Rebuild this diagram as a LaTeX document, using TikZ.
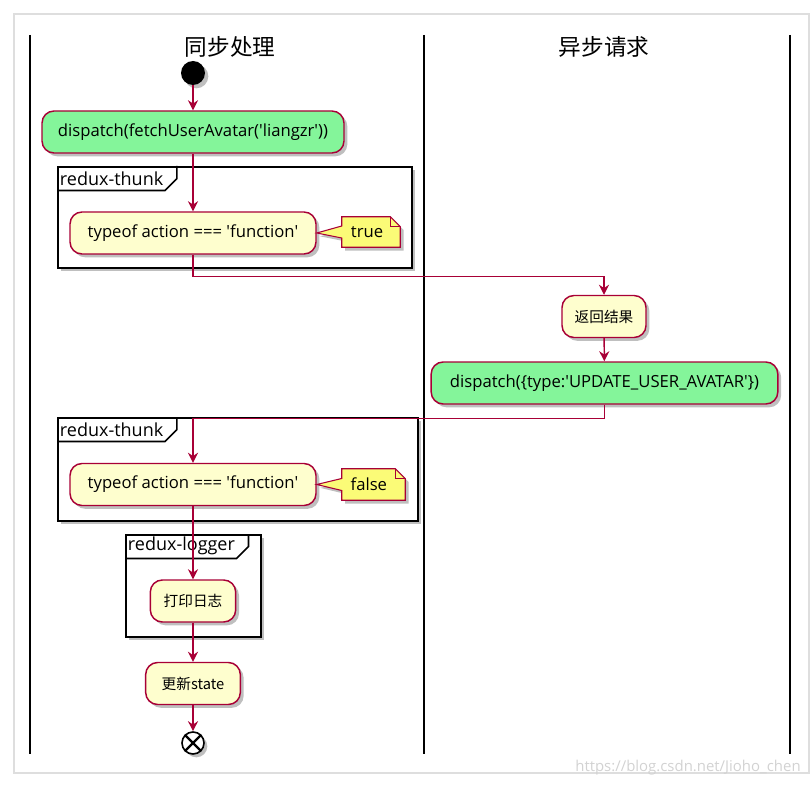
\documentclass[tikz,border=0pt]{standalone}
\usepackage{fontspec}
\setmainfont{Open Sans}
\newfontfamily\cjk{Noto Sans CJK SC}
\usepackage{tikz}
\usepackage{xcolor}
\usetikzlibrary{arrows.meta,positioning,shadows}
\definecolor{umlred}{HTML}{A80036}
\definecolor{actfill}{HTML}{FEFECE}
\definecolor{actgreen}{HTML}{84F59A}
\definecolor{notefill}{HTML}{FBFB77}
\newcommand{\sq}{\textquotesingle}
\tikzset{%
	umlshadow/.style = {drop shadow={shadow xshift=2.5pt, shadow yshift=-2.5pt, opacity=0.25, fill=black}},
	action/.style    = {draw=umlred, fill=actfill, line width=1.1pt, rounded corners=9pt, minimum height=31.5pt, text centered, font=\fontsize{12.5}{14}\selectfont, umlshadow},
	cjkact/.style    = {action, font=\cjk\fontsize{11}{13}\selectfont},
	greenact/.style  = {action, fill=actgreen},
	notebox/.style   = {inner sep=0pt, font=\fontsize{12.5}{14}\selectfont},
	noteline/.style  = {draw=umlred, fill=notefill, line width=0.8pt, line join=miter, umlshadow},
	framebox/.style  = {draw=black, line width=1.5pt, fill=white, umlshadow},
	tablabel/.style  = {inner xsep=2pt, inner ysep=0pt, minimum height=18pt, anchor=north west, font=\fontsize{13.5}{15}\selectfont},
	lanetitle/.style = {font=\cjk\fontsize{17}{20}\selectfont},
	lane/.style      = {line width=1.6pt},
	flow/.style      = {draw=umlred, line width=1.1pt, -{Stealth[length=7.5pt,width=7.5pt,inset=2.5pt]}},
}
\begin{document}
\begin{tikzpicture}[x=0.75pt,y=-0.75pt]
	\useasboundingbox (0,0) rectangle (811,788);
	\draw[black!13, line width=0.9pt] (14,14) rectangle (809,773);  % outer border
	\node[gray!35, font=\fontsize{11.2}{13}\selectfont] (mark) at (688,768) {https://blog.csdn.net/Jioho\_chen};
	
	% swimlanes
	\draw[lane] (30,35) -- (30,754);
	\draw[lane] (424,35) -- (424,754);
	\draw[lane] (790,35) -- (790,754);
	\node[lanetitle] (syncT) at (230,47) {同步处理};
	\node[lanetitle] (asyncT) at (604,47) {异步请求};
	
	% frames
	\node[framebox, minimum width=265.5pt, minimum height=75.75pt] (thunkA) at (235,217.5) {};
	\node[tablabel] (thunkAlbl) at (thunkA.north west) {redux-thunk\kern8pt};
	\draw[line width=1.2pt] (thunkAlbl.south west) -- ([xshift=-9pt]thunkAlbl.south east) -- ([yshift=9pt]thunkAlbl.south east) -- (thunkAlbl.north east);
	
	\node[framebox, minimum width=270pt, minimum height=77.25pt] (thunkB) at (238,469.5) {};
	\node[tablabel] (thunkBlbl) at (thunkB.north west) {redux-thunk\kern8pt};
	\draw[line width=1.2pt] (thunkBlbl.south west) -- ([xshift=-9pt]thunkBlbl.south east) -- ([yshift=9pt]thunkBlbl.south east) -- (thunkBlbl.north east);
	
	\node[framebox, minimum width=101.25pt, minimum height=76.5pt] (logger) at (193.5,586) {};
	\node[tablabel] (loggerlbl) at (logger.north west) {redux-logger\kern8pt};
	\draw[line width=1.2pt] (loggerlbl.south west) -- ([xshift=-9pt]loggerlbl.south east) -- ([yshift=9pt]loggerlbl.south east) -- (loggerlbl.north east);
	
	% activities
	\node[circle, fill=black, minimum size=18pt, inner sep=0pt, umlshadow] (start) at (193,73) {};
	\node[greenact, minimum width=226.5pt] (fetch) at (193,132) {dispatch(fetchUserAvatar(\sq liangzr\sq))};
	\node[action, minimum width=184.5pt] (typeA) at (193,233) {typeof action === \sq function\sq};
	\node[cjkact, minimum width=63pt] (result) at (604,316.5) {返回结果};
	\node[greenact, minimum width=260pt] (update) at (604.5,383) {dispatch(\{type:\sq UPDATE\_USER\_AVATAR\sq\})};
	\node[action, minimum width=184.5pt] (typeB) at (193,484.5) {typeof action === \sq function\sq};
	\node[cjkact, minimum width=64pt] (printlog) at (193,601) {打印日志};
	\node[cjkact, minimum width=71pt] (newstate) at (193,683.5) {更新state};
	\node[circle, draw=black, fill=white, line width=1.2pt, minimum size=16.5pt, inner sep=0pt, umlshadow] (fin) at (193,743) {};
	\draw[line width=1.6pt] (fin.north west) -- (fin.south east) (fin.north east) -- (fin.south west);
	
	% notes
	\node[notebox, minimum width=43.5pt, minimum height=22.5pt] (noteT) at (371,232) {};
	\draw[noteline] (noteT.north west) -- ([xshift=-7.5pt]noteT.north east) -- ([yshift=-7.5pt]noteT.north east) -- (noteT.south east) -- (noteT.south west) -- ([yshift=-4.5pt]noteT.west) -- (typeA.east) -- ([yshift=4.5pt]noteT.west) -- cycle;
	\draw[umlred, line width=0.8pt] ([xshift=-7.5pt]noteT.north east) -- ([xshift=-7.5pt,yshift=-7.5pt]noteT.north east) -- ([yshift=-7.5pt]noteT.north east);
	\node[notebox] at ([xshift=-3pt]noteT.center) {true};
	
	\node[notebox, minimum width=47.25pt, minimum height=23.25pt] (noteF) at (373.5,484.5) {};
	\draw[noteline] (noteF.north west) -- ([xshift=-7.5pt]noteF.north east) -- ([yshift=-7.5pt]noteF.north east) -- (noteF.south east) -- (noteF.south west) -- ([yshift=-4.5pt]noteF.west) -- (typeB.east) -- ([yshift=4.5pt]noteF.west) -- cycle;
	\draw[umlred, line width=0.8pt] ([xshift=-7.5pt]noteF.north east) -- ([xshift=-7.5pt,yshift=-7.5pt]noteF.north east) -- ([yshift=-7.5pt]noteF.north east);
	\node[notebox] at ([xshift=-3.5pt]noteF.center) {false};
	
	% flow
	\draw[flow] (start) -- (fetch);
	\draw[flow] (fetch) -- (typeA);
	\draw[flow] (typeA.south) -- ++(0,22) -| (result.north);
	\draw[flow] (result) -- (update);
	\draw[flow] (update.south) -- ++(0,14) -| (typeB.north);
	\draw[flow] (typeB) -- (printlog);
	\draw[flow] (printlog) -- (newstate);
	\draw[flow] (newstate) -- (fin);
\end{tikzpicture}
\end{document}
